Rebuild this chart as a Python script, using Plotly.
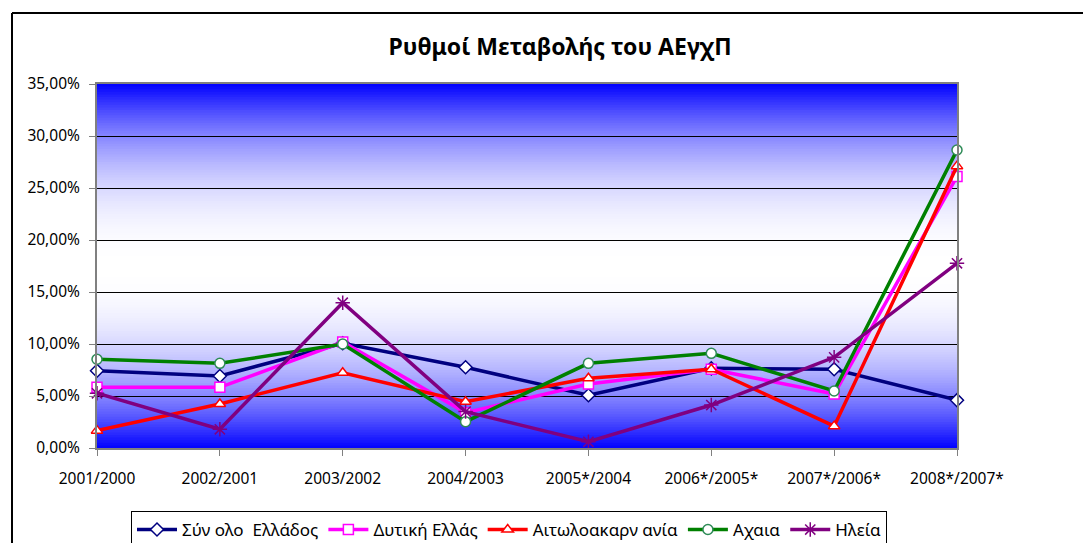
import numpy as np
import plotly.graph_objects as go

categories = ["2001/2000", "2002/2001", "2003/2002", "2004/2003",
              "2005*/2004", "2006*/2005*", "2007*/2006*", "2008*/2007*"]

synolo_ellados = [7.43, 6.92, 10.07, 7.76, 5.07, 7.66, 7.57, 4.60]
dytiki_ellas = [5.83, 5.83, 10.19, 3.40, 6.15, 7.57, 5.19, 26.10]
aitoloakarnania = [1.67, 4.23, 7.24, 4.45, 6.70, 7.57, 2.10, 27.10]
achaia = [8.53, 8.14, 10.00, 2.53, 8.14, 9.10, 5.48, 28.65]
ileia = [5.26, 1.80, 13.97, 3.50, 0.60, 4.13, 8.72, 17.76]

series_names = ["Σύν ολο  Ελλάδος", "Δυτική Ελλάς", "Αιτωλοακαρν ανία", "Αχαια", "Ηλεία"]
series_values = [synolo_ellados, dytiki_ellas, aitoloakarnania, achaia, ileia]
colors = ["#000080", "#FF00FF", "#FF0000", "#008000", "#800080"]
symbols = ["diamond", "square", "triangle-up", "circle", "asterisk-open"]
marker_lines = ["#000080", "#FF00FF", "#FF0000", "#2E8B57", "#000000"]

FONT = "Noto Sans"

fig = go.Figure()
for name, vals, col, sym, mlc in zip(series_names, series_values, colors, symbols, marker_lines):
    fig.add_trace(go.Scatter(
        x=categories, y=np.array(vals) / 100.0, name=name, mode="lines+markers",
        line=dict(color=col, width=3.5),
        marker=dict(symbol=sym, size=10 if sym != "asterisk-open" else 12,
                    color="white" if sym != "asterisk-open" else col,
                    line=dict(color=mlc if sym != "asterisk-open" else col, width=1.5)),
        cliponaxis=False,
    ))

# gradient background (blue - white - blue)
shapes = []
n = 140
step = 0.35 / n
for i in range(n):
    y0 = step * i
    y1 = min(0.35, step * (i + 1.6))
    mid = step * (i + 0.5)
    t = abs(mid - 0.175) / 0.175
    w = 1 - t ** 2.2
    c = int(round(255 * w))
    shapes.append(dict(type="rect", xref="x domain", yref="y", x0=0, x1=1, y0=y0, y1=y1,
                       fillcolor=f"rgb({c},{c},255)", line=dict(width=0), layer="below"))

# page body has an 8px margin; work in page pixel coordinates minus 8
OFF = 8
W, H = 1091 - OFF, 543 - OFF
L, T = 97 - OFF, 84 - OFF
R = W - (957 - OFF)
B = H - (448 - OFF)
pw, ph = W - L - R, H - T - B


def px_x(x):
    return (x - OFF - L) / pw


def px_y(y):
    return (H - B - (y - OFF)) / ph


bx = px_x(12)
by = px_y(13)
shapes.append(dict(type="line", xref="paper", yref="paper", x0=bx, x1=bx, y0=-0.6, y1=by,
                   line=dict(color="black", width=2)))
shapes.append(dict(type="line", xref="paper", yref="paper", x0=bx, x1=1.3, y0=by, y1=by,
                   line=dict(color="black", width=2)))

fig.update_layout(
    width=W, height=H,
    margin=dict(l=L, r=R, t=T, b=B, autoexpand=False),
    paper_bgcolor="white", plot_bgcolor="white",
    separators=",.",
    font=dict(family=FONT, size=15, color="black"),
    title=dict(text="<b>Ρυθμοί Μεταβολής του ΑΕγχΠ</b>", x=(560 - OFF) / W, xanchor="center",
               y=1 - (47 - OFF) / H, yanchor="middle", font=dict(family=FONT, size=23, color="black")),
    showlegend=True,
    legend=dict(orientation="h", x=px_x(131), xanchor="left",
                y=px_y(511), yanchor="top",
                bordercolor="#000000", borderwidth=1, bgcolor="white",
                font=dict(family=FONT, size=17), itemwidth=40, tracegroupgap=0),
    shapes=shapes,
)

fig.update_xaxes(
    type="category", range=[0, 7], showgrid=False,
    showline=True, linecolor="#808080", linewidth=2, mirror=True,
    ticks="outside", ticklen=6, tickcolor="#808080", tickwidth=1,
    ticklabelstandoff=9, tickfont=dict(family=FONT, size=15.5),
)
fig.update_yaxes(
    range=[0, 0.35], dtick=0.05, tickformat=".2%",
    showgrid=True, gridcolor="black", gridwidth=1,
    showline=True, linecolor="#808080", linewidth=2, mirror=True,
    ticks="outside", ticklen=6, tickcolor="#808080", tickwidth=1,
    ticklabelstandoff=6, tickfont=dict(family=FONT, size=15.5), zeroline=False,
)

fig.write_html("out.html")
